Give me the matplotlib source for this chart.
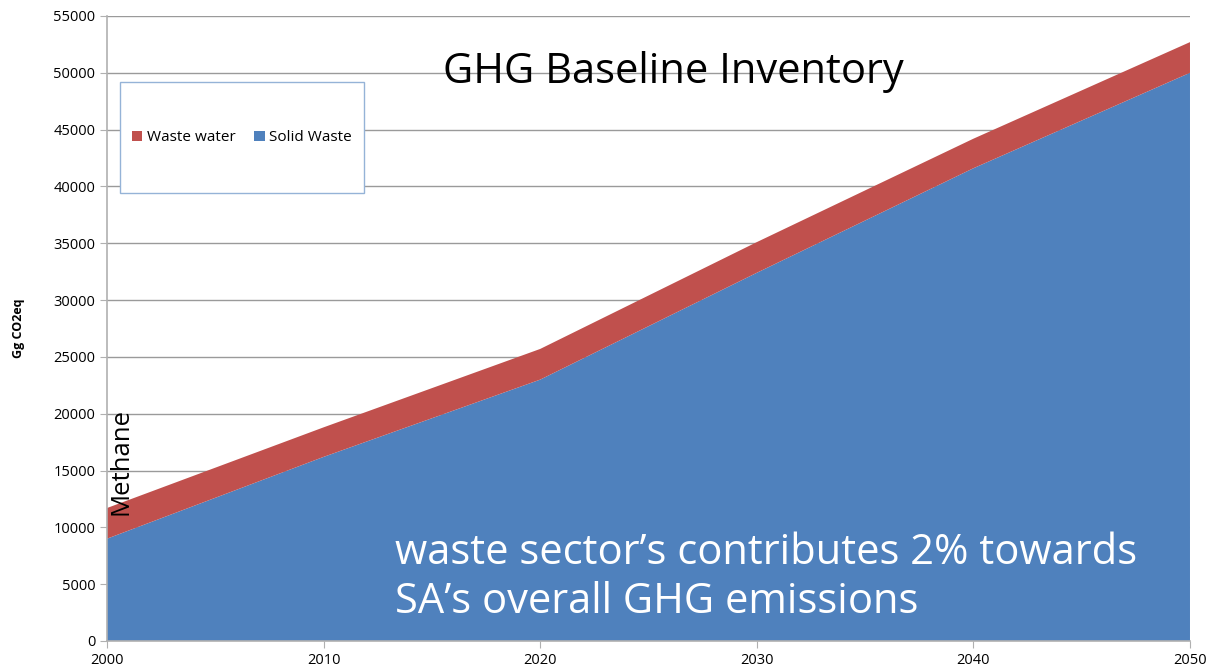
import numpy as np
import matplotlib.pyplot as plt
from matplotlib.patches import Rectangle

years = [2000, 2010, 2020, 2030, 2040, 2050]
solid_waste = [9000, 16200, 23000, 32400, 41600, 50000]
waste_water = [2700, 2600, 2700, 2700, 2600, 2700]
yticks = list(range(0, 55001, 5000))

red = '#C0504D'
blue = '#4F81BD'
grid = '#9a9a9a'

plt.rcParams['font.family'] = ['Open Sans', 'DejaVu Sans']

fig = plt.figure(figsize=(12.19, 6.69), dpi=100)
ax = fig.add_axes([0.0878, 0.0419, 0.8884, 0.9342])

ax.stackplot(years, solid_waste, waste_water, colors=[blue, red],
             labels=['Solid Waste', 'Waste water'], zorder=2)

ax.set_xlim(2000, 2050)
ax.set_ylim(0, 55000)
ax.set_yticks(yticks)
ax.set_xticks(years)
ax.yaxis.grid(True, color=grid, linewidth=1, zorder=0)
ax.set_axisbelow(True)
for s in ['top', 'right']:
    ax.spines[s].set_visible(False)
for s in ['left', 'bottom']:
    ax.spines[s].set_color('#b0b0b0')
    ax.spines[s].set_linewidth(1.2)
ax.tick_params(axis='both', colors='#b0b0b0', length=5, labelsize=10.5,
               labelcolor='black')
ax.set_ylabel('Gg CO2eq', fontsize=9, fontweight='bold', labelpad=20)

# legend inside a drawn box
ax.add_patch(Rectangle((0.012, 0.717), 0.225, 0.177, transform=ax.transAxes,
                       facecolor='white', edgecolor='#95b3d7', linewidth=1,
                       zorder=3))
h, l = ax.get_legend_handles_labels()
leg = ax.legend(h[::-1], l[::-1], ncol=2, frameon=False, fontsize=11,
                loc='center', bbox_to_anchor=(0.1245, 0.805),
                handlelength=0.7, handleheight=0.7, handletextpad=0.3,
                columnspacing=1.2)
leg.set_zorder(4)

ax.text(0.5226, 0.9104, 'GHG Baseline Inventory', transform=ax.transAxes,
        fontsize=30, ha='center', va='center', zorder=5)
ax.text(2013.3, 5600, "waste sector\u2019s contributes 2% towards\nSA\u2019s overall GHG emissions",
        color='white', fontsize=30, ha='left', va='center', linespacing=1.2,
        zorder=5)
ax.text(2000.65, 15750, 'Methane', rotation=90, fontsize=18.5,
        ha='center', va='center', zorder=5)

plt.savefig('out.png', dpi=100)
